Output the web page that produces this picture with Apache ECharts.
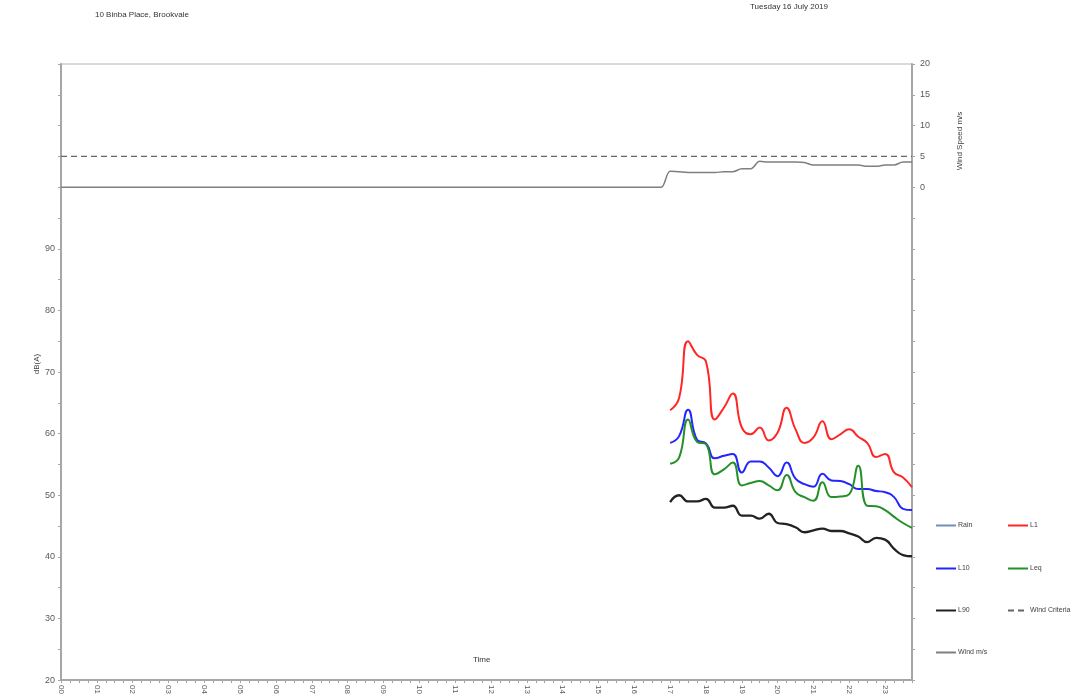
<!DOCTYPE html>
<html>
<head>
<meta charset="utf-8">
<title>10 Binba Place, Brookvale - Tuesday 16 July 2019</title>
<script src="https://cdn.jsdelivr.net/npm/echarts@6/dist/echarts.min.js"></script>
<style>
  html, body { margin: 0; padding: 0; background: #ffffff; }
  #chart { width: 1076px; height: 697px; }
</style>
</head>
<body>
<div id="chart"></div>
<script>
// Time of day, 15-minute steps over 24 hours
const hourLabels = ['00','01','02','03','04','05','06','07','08','09','10','11',
                    '12','13','14','15','16','17','18','19','20','21','22','23'];
const quarterLabels = ['00','15','30','45'];

// Noise levels, dB(A), measured every 15 minutes from 17:00 to 23:45
const noiseStart = '17:00';
const l1Values  = [63.8, 65.8, 75.0, 72.8, 71.7, 62.3, 64.2, 66.5, 61.0, 59.9, 61.0, 58.9, 60.2, 64.2,
                   60.7, 58.5, 59.4, 62.0, 59.1, 59.9, 60.7, 59.5, 58.5, 56.2, 56.7, 53.7, 52.9, 51.3];
const l10Values = [58.5, 59.6, 63.9, 59.0, 58.4, 56.0, 56.4, 56.7, 53.7, 55.5, 55.5, 54.5, 53.1, 55.3,
                   52.7, 51.8, 51.4, 53.5, 52.4, 52.3, 51.8, 51.0, 51.0, 50.7, 50.5, 49.7, 47.8, 47.6];
const leqValues = [55.1, 56.1, 62.3, 58.7, 58.3, 53.4, 54.2, 55.3, 51.6, 52.0, 52.3, 51.6, 50.8, 53.3,
                   50.5, 49.7, 49.1, 52.1, 49.7, 49.8, 50.2, 54.8, 48.3, 48.2, 47.6, 46.5, 45.5, 44.7];
const l90Values = [48.9, 50.0, 49.0, 49.0, 49.4, 48.0, 48.0, 48.3, 46.7, 46.7, 46.2, 47.0, 45.5, 45.3,
                   44.8, 44.0, 44.3, 44.6, 44.2, 44.2, 43.8, 43.3, 42.4, 43.1, 42.8, 41.3, 40.3, 40.1];

// Rainfall: none recorded
const rainValues = [];

// Wind speed, m/s, every 15 minutes from 00:00 to 23:45
const windValues = [
  0, 0, 0, 0, 0, 0, 0, 0, 0, 0, 0, 0, 0, 0, 0, 0,
  0, 0, 0, 0, 0, 0, 0, 0, 0, 0, 0, 0, 0, 0, 0, 0,
  0, 0, 0, 0, 0, 0, 0, 0, 0, 0, 0, 0, 0, 0, 0, 0,
  0, 0, 0, 0, 0, 0, 0, 0, 0, 0, 0, 0, 0, 0, 0, 0,
  0, 0, 0, 0, 2.6, 2.5, 2.4, 2.4, 2.4, 2.4, 2.5, 2.5, 3.0, 3.0, 4.2, 4.1,
  4.1, 4.1, 4.1, 4.0, 3.6, 3.6, 3.6, 3.6, 3.6, 3.6, 3.4, 3.4, 3.6, 3.6, 4.1, 4.1
];
const windCriteria = 5;

// Left axis tick labels (dB) and right axis tick labels (m/s)
const dbTickLabels = [20, 30, 40, 50, 60, 70, 80, 90];
const windTickLabels = [0, 5, 10, 15, 20];

// Build the category list and align noise series to it
const timeCategories = [];
hourLabels.forEach(h => quarterLabels.forEach(m => timeCategories.push(h + ':' + m)));
const startIdx = timeCategories.indexOf(noiseStart);
function alignToDay(values) {
  return timeCategories.map((t, i) => {
    const k = i - startIdx;
    return (k >= 0 && k < values.length) ? values[k] : null;
  });
}
const criteriaLine = timeCategories.map(() => windCriteria);

const FONT = '"Liberation Sans", Arial, sans-serif';
const AXIS_GREY = '#a6a6a6';
const LABEL_GREY = '#595959';

const chart = echarts.init(document.getElementById('chart'), null, { renderer: 'canvas' });

function legendAt(name, left, top) {
  return {
    data: [name], left: left, top: top, orient: 'horizontal',
    itemWidth: 20, itemHeight: 8, itemGap: 0, padding: 0, selectedMode: false,
    itemStyle: { opacity: 0 },
    textStyle: { fontFamily: FONT, fontSize: 7, color: '#404040', padding: [0, 0, 0, -3] }
  };
}

const option = {
  animation: false,
  backgroundColor: '#ffffff',
  textStyle: { fontFamily: FONT },
  grid: {
    left: 61, right: 164, top: 64, bottom: 13,
    show: true, borderColor: '#b4b4b4', borderWidth: 1, containLabel: false
  },
  legend: [
    legendAt('Rain', 935, 522),
    legendAt('L1', 1007, 522),
    legendAt('L10', 935, 565),
    legendAt('Leq', 1007, 565),
    legendAt('L90', 935, 607),
    legendAt('Wind Criteria', 1007, 607),
    legendAt('Wind m/s', 935, 649)
  ],
  xAxis: {
    type: 'category',
    data: timeCategories,
    boundaryGap: false,
    axisLine: { show: true, onZero: false, lineStyle: { color: AXIS_GREY, width: 2 } },
    axisTick: { show: true, interval: 0, length: 3, lineStyle: { color: AXIS_GREY } },
    axisLabel: {
      interval: (i) => i % 4 === 0,
      formatter: (v) => v.slice(0, 2),
      rotate: -90,
      margin: 5,
      fontSize: 8,
      color: LABEL_GREY,
      fontFamily: FONT
    },
    splitLine: { show: false }
  },
  yAxis: [
    {
      type: 'value', position: 'left', min: 20, max: 120, interval: 5,
      axisLine: { show: true, onZero: false, lineStyle: { color: AXIS_GREY, width: 2 } },
      axisTick: { show: true, length: 3, lineStyle: { color: AXIS_GREY } },
      axisLabel: {
        formatter: (v) => dbTickLabels.includes(v) ? String(v) : '',
        fontSize: 9, color: LABEL_GREY, margin: 6, fontFamily: FONT
      },
      splitLine: { show: false }
    },
    {
      type: 'value', position: 'right', min: -80, max: 20, interval: 5,
      axisLine: { show: true, onZero: false, lineStyle: { color: AXIS_GREY, width: 2 } },
      axisTick: { show: true, length: 3, lineStyle: { color: AXIS_GREY } },
      axisLabel: {
        formatter: (v) => windTickLabels.includes(v) ? String(v) : '',
        fontSize: 9, color: LABEL_GREY, margin: 8, fontFamily: FONT
      },
      splitLine: { show: false }
    }
  ],
  graphic: [
    { type: 'text', left: 95, top: 11,
      style: { text: '10 Binba Place, Brookvale', font: '8px ' + FONT, fill: '#333333' } },
    { type: 'text', left: 750, top: 3,
      style: { text: 'Tuesday 16 July 2019', font: '8px ' + FONT, fill: '#333333' } },
    { type: 'text', left: 473, top: 656,
      style: { text: 'Time', font: '8px ' + FONT, fill: '#333333' } },
    { type: 'text', x: 37, y: 364, rotation: Math.PI / 2,
      style: { text: 'dB(A)', font: '8px ' + FONT, fill: '#404040', align: 'center', verticalAlign: 'middle' } },
    { type: 'text', x: 960, y: 141, rotation: Math.PI / 2,
      style: { text: 'Wind Speed m/s', font: '8px ' + FONT, fill: '#404040', align: 'center', verticalAlign: 'middle' } }
  ],
  series: [
    {
      name: 'Rain', type: 'line', yAxisIndex: 0, data: rainValues, symbol: 'none',
      lineStyle: { color: '#6f8fba', width: 3.5 }, itemStyle: { color: '#6f8fba' }
    },
    {
      name: 'Wind m/s', type: 'line', yAxisIndex: 1, data: windValues, symbol: 'none',
      smooth: 0.35, z: 1,
      lineStyle: { color: '#7f7f7f', width: 1.5 }, itemStyle: { color: '#7f7f7f' }
    },
    {
      name: 'Wind Criteria', type: 'line', yAxisIndex: 1, data: criteriaLine, symbol: 'none',
      z: 1,
      lineStyle: { color: '#666666', width: 1.3, type: [6, 4] }, itemStyle: { color: '#666666' }
    },
    {
      name: 'L1', type: 'line', yAxisIndex: 0, data: alignToDay(l1Values), symbol: 'none',
      smooth: 0.5,
      lineStyle: { color: '#ff2626', width: 2 }, itemStyle: { color: '#ff2626' }
    },
    {
      name: 'L10', type: 'line', yAxisIndex: 0, data: alignToDay(l10Values), symbol: 'none',
      smooth: 0.5,
      lineStyle: { color: '#2424ff', width: 2 }, itemStyle: { color: '#2424ff' }
    },
    {
      name: 'Leq', type: 'line', yAxisIndex: 0, data: alignToDay(leqValues), symbol: 'none',
      smooth: 0.5,
      lineStyle: { color: '#24902a', width: 2 }, itemStyle: { color: '#24902a' }
    },
    {
      name: 'L90', type: 'line', yAxisIndex: 0, data: alignToDay(l90Values), symbol: 'none',
      smooth: 0.5,
      lineStyle: { color: '#222222', width: 2.3 }, itemStyle: { color: '#222222' }
    }
  ]
};

chart.setOption(option);
</script>
</body>
</html>
